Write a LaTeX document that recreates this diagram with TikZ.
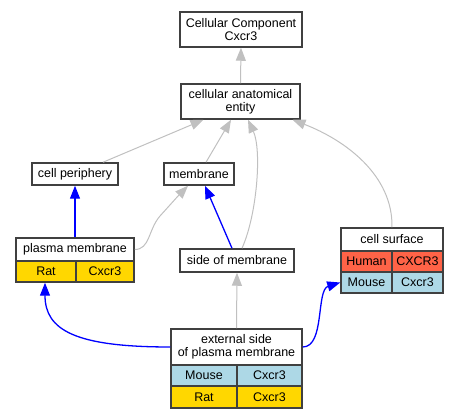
\documentclass[tikz,border=0pt]{standalone}
\usepackage{fontspec}
\setmainfont{Liberation Sans}
\usetikzlibrary{arrows.meta}
\definecolor{gedge}{HTML}{C0C0C0}
\definecolor{bedge}{HTML}{0000FF}
\definecolor{gold}{HTML}{FFD700}
\definecolor{lblue}{HTML}{ADD8E6}
\definecolor{tomato}{HTML}{FF6347}
\tikzset{
  box/.style={draw=black!75, line width=1.5pt, fill=white, inner sep=0pt, align=center,
    font=\fontsize{12.5}{13}\selectfont},
  cell/.style={box},
  isa/.style={draw=gedge, line width=1pt, -{Triangle[length=13pt,width=10pt]}},
  part/.style={draw=bedge, line width=1.3pt, -{Triangle[length=13pt,width=10pt]}},
}
\begin{document}
\begin{tikzpicture}[x=1pt,y=-1pt]
\useasboundingbox (0,0) rectangle (459,419);
% nodes
\node[box, minimum width=122pt, minimum height=35pt] (cc) at (241,29.5) {Cellular Component\\Cxcr3};
\node[box, minimum width=119pt, minimum height=35pt] (cae) at (240.5,101.5) {cellular anatomical\\entity};
\node[box, minimum width=86pt, minimum height=22pt] (cp) at (75,174) {cell periphery};
\node[box, minimum width=70pt, minimum height=22pt] (mem) at (199,174) {membrane};
% plasma membrane
\node[box, minimum width=118pt, minimum height=23pt] (pm) at (75,249.5) {plasma membrane};
\node[cell, fill=gold, minimum width=60pt, minimum height=21pt] (pm1a) at (46,271.5) {Rat};
\node[cell, fill=gold, minimum width=58pt, minimum height=21pt] (pm1b) at (105,271.5) {Cxcr3};
% side of membrane
\node[box, minimum width=114pt, minimum height=23pt] (som) at (237,260.5) {side of membrane};
% cell surface
\node[box, minimum width=102pt, minimum height=23pt] (cs) at (392,239.5) {cell surface};
\node[cell, fill=tomato, minimum width=51pt, minimum height=21pt] (cs1a) at (366.5,261.5) {Human};
\node[cell, fill=tomato, minimum width=51pt, minimum height=21pt] (cs1b) at (417.5,261.5) {CXCR3};
\node[cell, fill=lblue, minimum width=51pt, minimum height=21pt] (cs2a) at (366.5,282.5) {Mouse};
\node[cell, fill=lblue, minimum width=51pt, minimum height=21pt] (cs2b) at (417.5,282.5) {Cxcr3};
% external side of plasma membrane
\node[box, minimum width=131pt, minimum height=36pt] (esp) at (236.5,347) {external side\\of plasma membrane};
\node[cell, fill=lblue, minimum width=66pt, minimum height=21pt] (esp1a) at (204,375.5) {Mouse};
\node[cell, fill=lblue, minimum width=65pt, minimum height=21pt] (esp1b) at (269.5,375.5) {Cxcr3};
\node[cell, fill=gold, minimum width=66pt, minimum height=22pt] (esp2a) at (204,397) {Rat};
\node[cell, fill=gold, minimum width=65pt, minimum height=22pt] (esp2b) at (269.5,397) {Cxcr3};
% edges
\draw[isa] (cae.north) -- (cc.south);
\draw[isa] ([xshift=28pt]cp.north) -- ([xshift=-37pt]cae.south);
\draw[isa] ([xshift=7pt]mem.north) -- ([xshift=-9.5pt]cae.south);
\draw[isa] ([xshift=5pt]som.north) .. controls (257,215) and (262,150) .. ([xshift=7.5pt]cae.south);
\draw[isa] (cs.north) .. controls (393,175) and (345,140) .. ([xshift=52pt]cae.south);
\draw[isa] (pm.east) .. controls (150,249.5) and (148,230) .. (160,216) .. controls (170,205) and (178,196) .. ([xshift=-11pt]mem.south);
\draw[part] ([xshift=-5pt]som.north) -- ([xshift=6pt]mem.south);
\draw[part] (pm.north) -- (cp.south);
\draw[isa] (esp.north) -- (som.south);
\draw[part] (esp.west) .. controls (75,347) and (45,330) .. ([xshift=-1pt]pm1a.south);
\draw[part] (esp.east) .. controls (325,347) and (316,290) .. (cs2a.west);
\end{tikzpicture}
\end{document}
